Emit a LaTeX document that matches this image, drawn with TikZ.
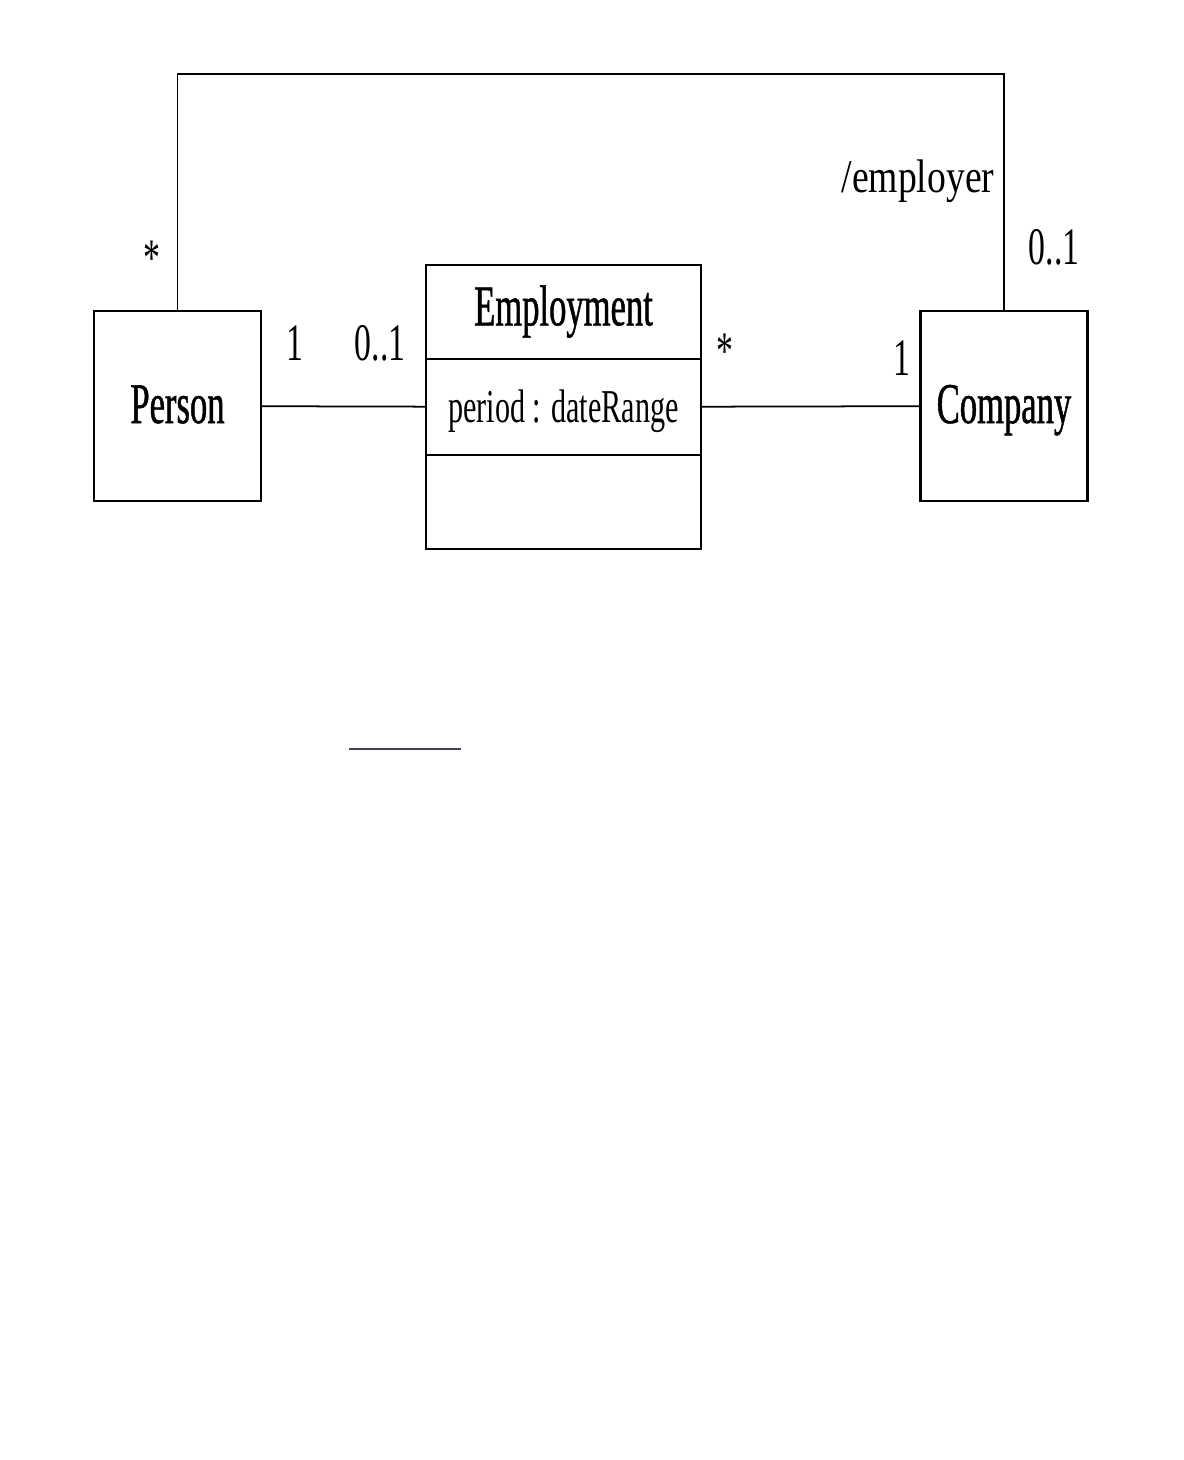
\documentclass[tikz,border=0pt]{standalone}
\usepackage{fontspec}
\setmainfont{Liberation Serif}
\newfontfamily\clsfont[FakeStretch=0.6, FakeBold=0.8]{Liberation Serif}
\newfontfamily\txtfont[FakeStretch=0.64]{Liberation Serif}
\newfontfamily\rolefont[FakeStretch=0.8]{Liberation Serif}
\usetikzlibrary{positioning}
\definecolor{myrule}{RGB}{60,64,100}
\tikzset{
  classbox/.style={draw, line width=0.6pt, outer sep=0pt, minimum width=1.67cm, minimum height=1.90cm,
    font=\clsfont\fontsize{16.4}{18}\selectfont, text height=1.17em, text depth=0.2em},
  compart/.style={draw, line width=0.6pt, outer sep=0pt, inner sep=0pt, minimum width=2.75cm},
  mult/.style={anchor=base, inner sep=0pt, font=\txtfont\fontsize{15}{17}\selectfont},
  assoc/.style={line width=0.5pt},
}

\begin{document}
\begin{tikzpicture}
    \useasboundingbox (0,0) rectangle (11.84,-14.60);
    \def\ym{-4.06};
    \def\yt{-0.74};
    \node[classbox] (person) at (1.775, \ym) {Person};
    \node[classbox] (company) at (10.04, \ym) {Company};
    \node[compart, minimum height=0.94cm, font=\clsfont\fontsize{16.4}{18}\selectfont,
      text height=0.98em, text depth=0.22em] (empname) at (5.635, -3.12) {Employment};
    \node[compart, minimum height=0.96cm, below=0pt of empname, font=\txtfont\fontsize{13.4}{15}\selectfont,
      text height=1.1em, text depth=0.22em] (empattr) {period : dateRange};
    \node[compart, minimum height=0.94cm, below=0pt of empattr] (empops) {};
    \coordinate (topbar) at (0, \yt);
    \draw[assoc] (person) -- (empattr);
    \draw[assoc] (empattr) -- (company);
    \draw[assoc] (person.north) |- (topbar -| company.north) -- (company.north);
    % multiplicities and role
    \node[mult] (mstarp) at (1.52, -2.75) {*};
    \node[mult] (monep) at (2.95, -3.60) {1};
    \node[mult] (mzerop) at (3.80, -3.60) {0..1};
    \node[mult] (mstarc) at (7.25, -3.68) {*};
    \node[mult] (monec) at (9.02, -3.75) {1};
    \node[mult] (mzeroc) at (10.54, -2.64) {0..1};
    \node[anchor=base, inner sep=0pt, font=\rolefont\fontsize{13.4}{15}\selectfont] (role) at (9.18, -1.92) {/employer};
    \draw[myrule, line width=0.6pt] (3.49, -7.49) -- (4.61, -7.49);
\end{tikzpicture}
\end{document}
